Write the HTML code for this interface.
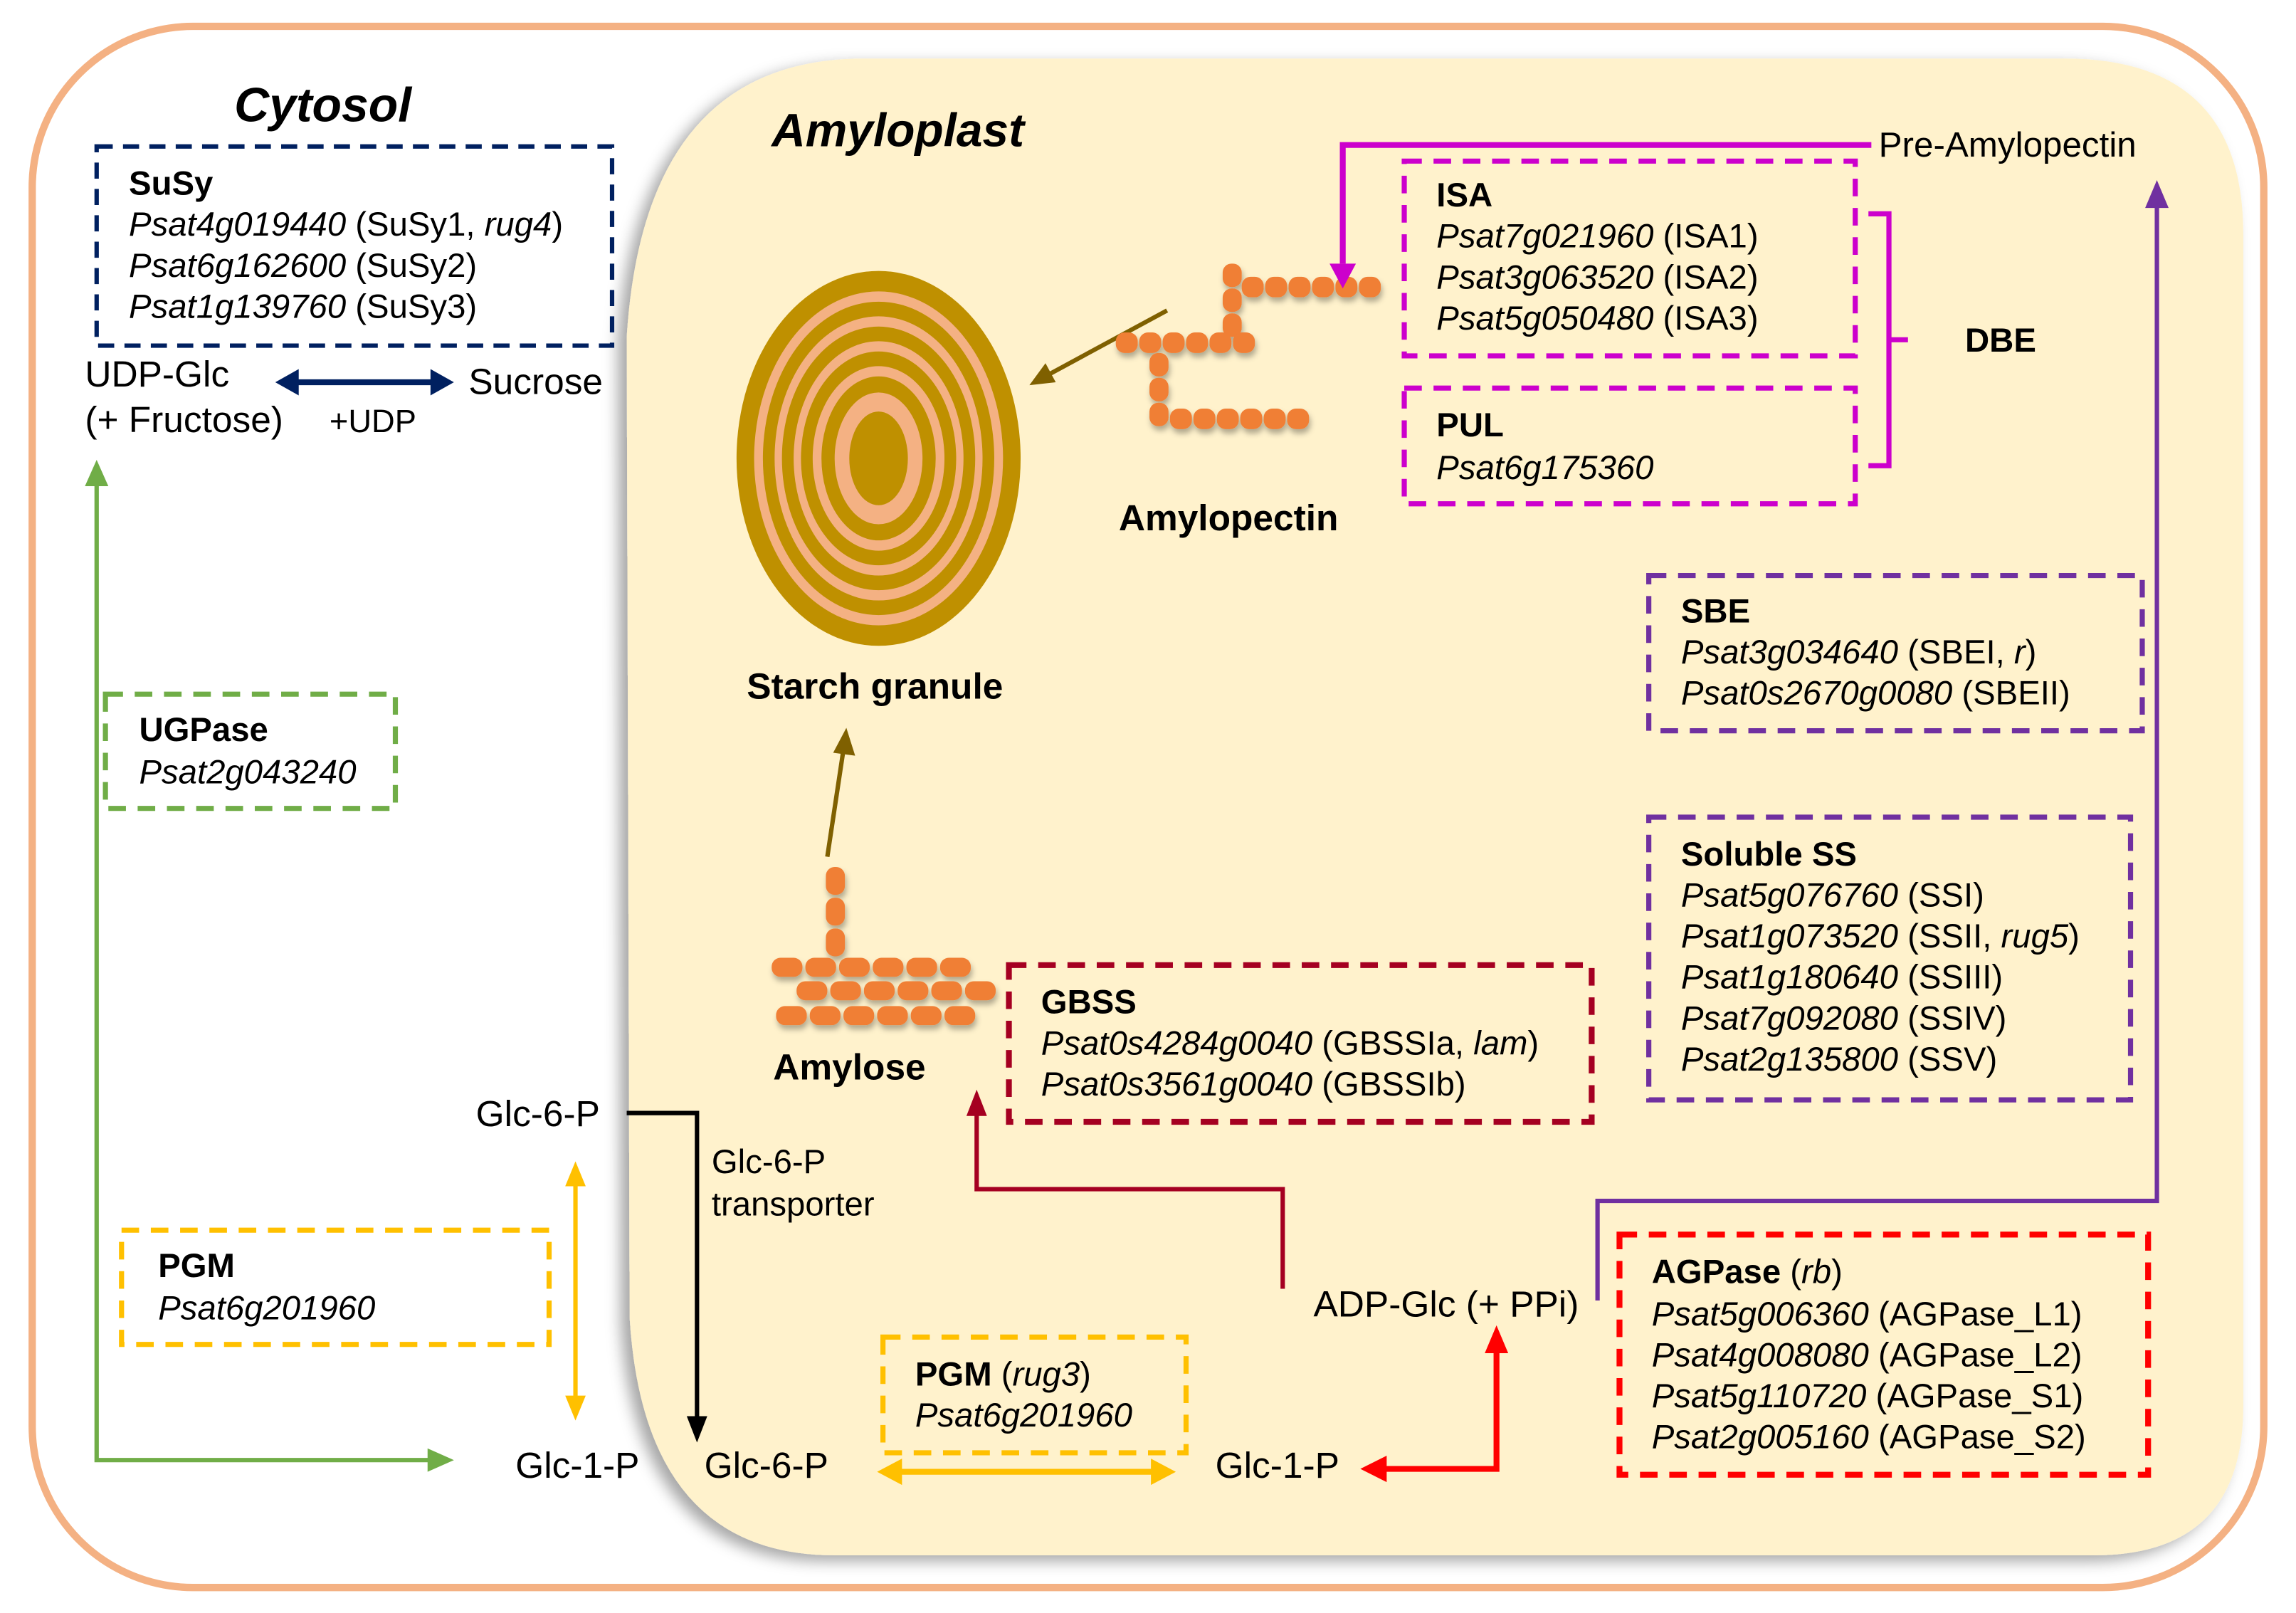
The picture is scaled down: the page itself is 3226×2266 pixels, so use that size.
<!DOCTYPE html>
<html><head><meta charset="utf-8"><style>
html,body{margin:0;padding:0;background:#fff;width:3226px;height:2266px;overflow:hidden}
svg{display:block}
text{font-family:"Liberation Sans",Arial,sans-serif;font-size:23px;fill:#000}
.b{font-weight:bold}
.i{font-style:italic}
.L{font-size:25px}
</style></head><body>
<svg width="3226" height="2266" viewBox="0 0 1568 1101.4" preserveAspectRatio="none" xmlns="http://www.w3.org/2000/svg">
<defs>
<filter id="sh" x="-20%" y="-20%" width="140%" height="140%"><feDropShadow dx="-6" dy="4" stdDeviation="5" flood-color="#000" flood-opacity="0.35"/></filter>
<filter id="ds" x="-30%" y="-50%" width="160%" height="200%"><feDropShadow dx="1" dy="3" stdDeviation="2" flood-color="#000" flood-opacity="0.3"/></filter>
</defs>
<rect x="22" y="18" width="1524" height="1066" rx="110" fill="#fff" stroke="#F4B183" stroke-width="5"/>
<path d="M590,40 L1410,40 Q1532,40 1532,160 L1532,960 Q1532,1062 1430,1062 L570,1062 Q440,1062 430,900 L428,230 Q440,40 590,40 Z" fill="#FFF2CC" filter="url(#sh)"/>

<text x="160" y="83" class="b i" style="font-size:33px">Cytosol</text>
<text x="527" y="100" class="b i" style="font-size:32px">Amyloplast</text>

<!-- SuSy -->
<rect x="66" y="100" width="352" height="136" fill="none" stroke="#002060" stroke-width="3" stroke-dasharray="11,7"/>
<text x="88" y="133" class="b">SuSy</text>
<text x="88" y="161"><tspan class="i">Psat4g019440</tspan> (SuSy1, <tspan class="i">rug4</tspan>)</text>
<text x="88" y="189"><tspan class="i">Psat6g162600</tspan> (SuSy2)</text>
<text x="88" y="217"><tspan class="i">Psat1g139760</tspan> (SuSy3)</text>
<text x="58" y="264" class="L">UDP-Glc</text>
<text x="58" y="295" class="L">(+ Fructose)</text>
<text x="225" y="295" style="font-size:22px">+UDP</text>
<text x="320" y="269" class="L">Sucrose</text>
<line x1="200" y1="261" x2="298" y2="261" stroke="#002060" stroke-width="4"/>
<path d="M188,261 L204,252 L204,270 Z M310,261 L294,252 L294,270 Z" fill="#002060"/>

<!-- green -->
<polyline points="66,330 66,997 296,997" fill="none" stroke="#70AD47" stroke-width="3"/>
<path d="M66,314 L58,332 L74,332 Z M310,997 L292,989 L292,1005 Z" fill="#70AD47"/>
<rect x="72" y="474" width="198" height="78" fill="#fff" stroke="#70AD47" stroke-width="3.5" stroke-dasharray="12,8"/>
<text x="95" y="506" class="b">UGPase</text>
<text x="95" y="535" class="i">Psat2g043240</text>

<!-- PGM cytosol -->
<rect x="83" y="840" width="292" height="78" fill="none" stroke="#FFC000" stroke-width="3.5" stroke-dasharray="12,8"/>
<text x="108" y="872" class="b">PGM</text>
<text x="108" y="901" class="i">Psat6g201960</text>
<line x1="393" y1="808" x2="393" y2="955" stroke="#FFC000" stroke-width="3"/>
<path d="M393,793 L386,810 L400,810 Z M393,970 L386,953 L400,953 Z" fill="#FFC000"/>
<text x="325" y="769" class="L">Glc-6-P</text>
<text x="352" y="1009" class="L">Glc-1-P</text>
<text x="481" y="1009" class="L">Glc-6-P</text>
<polyline points="428,760 476,760 476,970" fill="none" stroke="#000" stroke-width="3"/>
<path d="M476,985 L469,967 L483,967 Z" fill="#000"/>
<text x="486" y="801">Glc-6-P</text>
<text x="486" y="830">transporter</text>

<!-- starch granule -->
<g>
<ellipse cx="600" cy="313" rx="97" ry="128" fill="#BF9000"/>
<ellipse cx="600" cy="313" rx="85" ry="114" fill="#F4B183"/>
<ellipse cx="600" cy="313" rx="79" ry="107" fill="#BF9000"/>
<ellipse cx="600" cy="313" rx="71" ry="97" fill="#F4B183"/>
<ellipse cx="600" cy="313" rx="66" ry="90" fill="#BF9000"/>
<ellipse cx="600" cy="313" rx="58" ry="80" fill="#F4B183"/>
<ellipse cx="600" cy="313" rx="53" ry="73" fill="#BF9000"/>
<ellipse cx="600" cy="313" rx="45" ry="63" fill="#F4B183"/>
<ellipse cx="600" cy="313" rx="39" ry="56" fill="#BF9000"/>
<ellipse cx="600" cy="313" rx="30" ry="45" fill="#F4B183"/>
<ellipse cx="600" cy="313" rx="20" ry="32" fill="#BF9000"/>
</g>
<text x="510" y="477" class="b L">Starch granule</text>
<line x1="797" y1="212" x2="712" y2="258" stroke="#7F6000" stroke-width="3"/>
<path d="M703,263 L714,248 L721,261 Z" fill="#7F6000"/>
<line x1="565" y1="585" x2="576" y2="512" stroke="#7F6000" stroke-width="3"/>
<path d="M578,497 L569,514 L584,516 Z" fill="#7F6000"/>

<!-- amylopectin -->
<g fill="#F07F35" filter="url(#ds)">
<rect x="848" y="189" width="15" height="14" rx="6"/><rect x="864" y="189" width="15" height="14" rx="6"/><rect x="880" y="189" width="15" height="14" rx="6"/><rect x="896" y="189" width="15" height="14" rx="6"/><rect x="912" y="189" width="15" height="14" rx="6"/><rect x="928" y="189" width="15" height="14" rx="6"/>
<rect x="835" y="180" width="13" height="16" rx="6"/><rect x="835" y="197" width="13" height="16" rx="6"/><rect x="835" y="214" width="13" height="16" rx="6"/>
<rect x="762" y="227" width="15" height="14" rx="6"/><rect x="778" y="227" width="15" height="14" rx="6"/><rect x="794" y="227" width="15" height="14" rx="6"/><rect x="810" y="227" width="15" height="14" rx="6"/><rect x="826" y="227" width="15" height="14" rx="6"/><rect x="842" y="227" width="15" height="14" rx="6"/>
<rect x="785" y="241" width="13" height="16" rx="6"/><rect x="785" y="258" width="13" height="16" rx="6"/><rect x="785" y="275" width="13" height="16" rx="6"/>
<rect x="799" y="279" width="15" height="14" rx="6"/><rect x="815" y="279" width="15" height="14" rx="6"/><rect x="831" y="279" width="15" height="14" rx="6"/><rect x="847" y="279" width="15" height="14" rx="6"/><rect x="863" y="279" width="15" height="14" rx="6"/><rect x="879" y="279" width="15" height="14" rx="6"/>
</g>
<text x="764" y="362" class="b L">Amylopectin</text>

<!-- amylose -->
<g fill="#F07F35" filter="url(#ds)">
<rect x="564" y="592" width="13" height="19" rx="6"/><rect x="564" y="613" width="13" height="19" rx="6"/><rect x="564" y="634" width="13" height="19" rx="6"/>
<rect x="527" y="654" width="21" height="13" rx="6"/><rect x="550" y="654" width="21" height="13" rx="6"/><rect x="573" y="654" width="21" height="13" rx="6"/><rect x="596" y="654" width="21" height="13" rx="6"/><rect x="619" y="654" width="21" height="13" rx="6"/><rect x="642" y="654" width="21" height="13" rx="6"/>
<rect x="544" y="670" width="21" height="13" rx="6"/><rect x="567" y="670" width="21" height="13" rx="6"/><rect x="590" y="670" width="21" height="13" rx="6"/><rect x="613" y="670" width="21" height="13" rx="6"/><rect x="636" y="670" width="21" height="13" rx="6"/><rect x="659" y="670" width="21" height="13" rx="6"/>
<rect x="530" y="687" width="21" height="13" rx="6"/><rect x="553" y="687" width="21" height="13" rx="6"/><rect x="576" y="687" width="21" height="13" rx="6"/><rect x="599" y="687" width="21" height="13" rx="6"/><rect x="622" y="687" width="21" height="13" rx="6"/><rect x="645" y="687" width="21" height="13" rx="6"/>
</g>
<text x="528" y="737" class="b L">Amylose</text>

<!-- magenta DBE -->
<polyline points="1278,99 917,99 917,180" fill="none" stroke="#CC00CC" stroke-width="4"/>
<path d="M917,197 L908,180 L926,180 Z" fill="#CC00CC"/>
<text x="1283" y="107" style="font-size:24px">Pre-Amylopectin</text>
<rect x="959" y="110" width="308" height="133" fill="none" stroke="#CC00CC" stroke-width="3.5" stroke-dasharray="12,8"/>
<text x="981" y="141" class="b">ISA</text>
<text x="981" y="169"><tspan class="i">Psat7g021960</tspan> (ISA1)</text>
<text x="981" y="197"><tspan class="i">Psat3g063520</tspan> (ISA2)</text>
<text x="981" y="225"><tspan class="i">Psat5g050480</tspan> (ISA3)</text>
<rect x="959" y="265" width="308" height="79" fill="none" stroke="#CC00CC" stroke-width="3.5" stroke-dasharray="12,8"/>
<text x="981" y="298" class="b">PUL</text>
<text x="981" y="327" class="i">Psat6g175360</text>
<polyline points="1276,146 1290,146 1290,318 1276,318" fill="none" stroke="#CC00CC" stroke-width="3.5"/>
<line x1="1290" y1="232" x2="1303" y2="232" stroke="#CC00CC" stroke-width="3.5"/>
<text x="1342" y="240" class="b">DBE</text>

<!-- purple -->
<polyline points="1091,888 1091,820 1473,820 1473,140" fill="none" stroke="#7030A0" stroke-width="3"/>
<path d="M1473,123 L1465,142 L1481,142 Z" fill="#7030A0"/>
<rect x="1126" y="393" width="337" height="106" fill="none" stroke="#7030A0" stroke-width="3.5" stroke-dasharray="12,8"/>
<text x="1148" y="425" class="b">SBE</text>
<text x="1148" y="453"><tspan class="i">Psat3g034640</tspan> (SBEI, <tspan class="i">r</tspan>)</text>
<text x="1148" y="481"><tspan class="i">Psat0s2670g0080</tspan> (SBEII)</text>
<rect x="1126" y="558" width="329" height="193" fill="none" stroke="#7030A0" stroke-width="3.5" stroke-dasharray="12,8"/>
<text x="1148" y="591" class="b">Soluble SS</text>
<text x="1148" y="619"><tspan class="i">Psat5g076760</tspan> (SSI)</text>
<text x="1148" y="647"><tspan class="i">Psat1g073520</tspan> (SSII, <tspan class="i">rug5</tspan>)</text>
<text x="1148" y="675"><tspan class="i">Psat1g180640</tspan> (SSIII)</text>
<text x="1148" y="703"><tspan class="i">Psat7g092080</tspan> (SSIV)</text>
<text x="1148" y="731"><tspan class="i">Psat2g135800</tspan> (SSV)</text>

<!-- GBSS -->
<rect x="689" y="659" width="398" height="107" fill="none" stroke="#A50021" stroke-width="4" stroke-dasharray="12,8"/>
<text x="711" y="692" class="b">GBSS</text>
<text x="711" y="720"><tspan class="i">Psat0s4284g0040</tspan> (GBSSIa, <tspan class="i">lam</tspan>)</text>
<text x="711" y="748"><tspan class="i">Psat0s3561g0040</tspan> (GBSSIb)</text>
<polyline points="876,880 876,812 667,812 667,760" fill="none" stroke="#A50021" stroke-width="3"/>
<path d="M667,744 L660,762 L674,762 Z" fill="#A50021"/>

<!-- AGPase -->
<text x="897" y="899" class="L">ADP-Glc (+ PPi)</text>
<rect x="1106" y="843" width="361" height="164" fill="none" stroke="#FF0000" stroke-width="4" stroke-dasharray="12,8"/>
<text x="1128" y="876"><tspan class="b">AGPase</tspan> (<tspan class="i">rb</tspan>)</text>
<text x="1128" y="905"><tspan class="i">Psat5g006360</tspan> (AGPase_L1)</text>
<text x="1128" y="933"><tspan class="i">Psat4g008080</tspan> (AGPase_L2)</text>
<text x="1128" y="961"><tspan class="i">Psat5g110720</tspan> (AGPase_S1)</text>
<text x="1128" y="989"><tspan class="i">Psat2g005160</tspan> (AGPase_S2)</text>
<polyline points="945,1003 1022,1003 1022,922" fill="none" stroke="#FF0000" stroke-width="4"/>
<path d="M1022,905 L1014,924 L1030,924 Z M929,1003 L947,994 L947,1012 Z" fill="#FF0000"/>
<text x="830" y="1009" class="L">Glc-1-P</text>

<!-- PGM amyloplast -->
<rect x="603" y="913" width="207" height="79" fill="none" stroke="#FFC000" stroke-width="3.5" stroke-dasharray="12,8"/>
<text x="625" y="946"><tspan class="b">PGM</tspan> (<tspan class="i">rug3</tspan>)</text>
<text x="625" y="974" class="i">Psat6g201960</text>
<line x1="612" y1="1005" x2="790" y2="1005" stroke="#FFC000" stroke-width="4"/>
<path d="M599,1005 L616,996 L616,1014 Z M803,1005 L786,996 L786,1014 Z" fill="#FFC000"/>
</svg>
</body></html>
